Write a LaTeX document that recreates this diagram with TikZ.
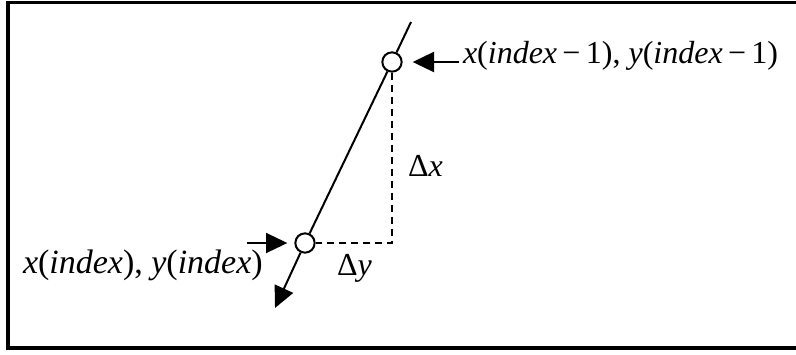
\documentclass[tikz,border=0pt]{standalone}
\usepackage{fontspec}
\setmainfont{Liberation Serif}
\usetikzlibrary{arrows.meta,calc}

\tikzset{
  pt/.style={circle,draw,fill=white,line width=1.5pt,inner sep=0pt,minimum size=14.5pt},
  arr/.style={-{Triangle[length=16pt,width=15pt]},line width=1.5pt},
  lbl/.style={inner sep=0pt,font=\fontsize{24}{28}\selectfont}
}

\begin{document}
\begin{tikzpicture}[x=0.75pt,y=-0.75pt,line width=1.5pt]
\useasboundingbox (0,0) rectangle (796,354);
\draw[line width=2.6pt] (8,2.5) rectangle (810,348);
% points on the line
\coordinate (lineTop) at (411,22);
\coordinate (lineEnd) at (275,308);
\coordinate (corner) at (392,243);
\node[pt] (prev) at (392,62) {};
\node[pt] (cur) at (305,243) {};
\draw (lineTop) -- (prev);
\draw (prev) -- (cur);
\draw[arr] (cur) -- (lineEnd);
\draw[dash pattern=on 5.5pt off 3.5pt] (prev) -- (corner) -- (cur);
% labels
\node[lbl,anchor=base west] (lblPrev) at (462,63) {\textit{x}(\textit{index}\,−\,1), \textit{y}(\textit{index}\,−\,1)};
\node[lbl,anchor=base west,font=\fontsize{25.5}{30}\selectfont] (lblCur) at (22,273) {\textit{x}(\textit{index}), \textit{y}(\textit{index})};
\node[lbl,anchor=base west] (dx) at (407,176) {Δ\textit{x}};
\node[lbl,anchor=base west] (dy) at (336,275) {Δ\textit{y}};
\coordinate (arrPrevTail) at (459,62);
\coordinate (arrCurTail) at (247,243);
\draw[arr] (arrPrevTail) -- ($(prev.east)+(10,0)$);
\draw[arr] (arrCurTail) -- ($(cur.west)+(-7,0)$);
\end{tikzpicture}
\end{document}
